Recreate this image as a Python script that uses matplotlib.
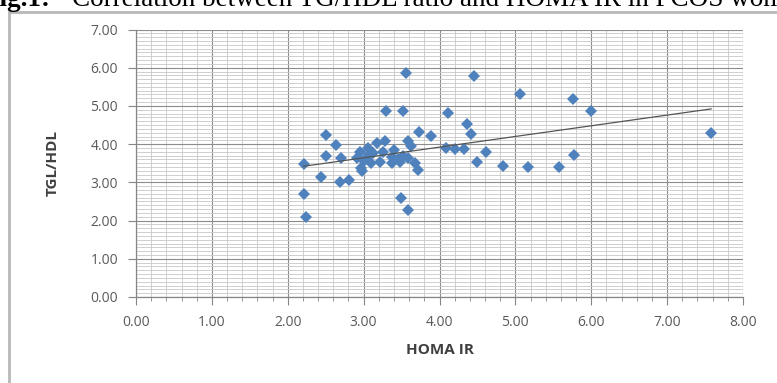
import numpy as np
import matplotlib.pyplot as plt
from matplotlib.ticker import MultipleLocator, FormatStrFormatter
from matplotlib.patches import Rectangle

# HOMA IR vs TGL/HDL
homa_ir = [2.21, 2.21, 2.24, 2.44, 2.50, 2.64, 2.50, 2.69, 2.81, 2.70,
           2.98, 3.30, 3.52, 3.56, 4.11, 4.45, 3.49, 3.58, 3.73, 3.89,
           3.58, 3.63, 3.72, 4.36, 4.41, 4.09, 4.20, 4.32, 4.49, 4.61,
           4.84, 5.16, 5.57, 5.77, 5.06, 5.76, 6.00, 7.58,
           3.28, 3.17, 3.06, 2.95, 2.91, 3.04, 3.13, 3.26, 3.37, 3.21,
           3.37, 3.48, 3.59, 3.68, 2.97, 3.10, 3.45, 3.00, 3.40, 3.52]
tgl_hdl = [3.47, 2.70, 2.09, 3.15, 4.23, 3.98, 3.69, 3.00, 3.06, 3.64,
           3.31, 4.88, 4.88, 5.87, 4.81, 5.79, 2.60, 2.28, 4.33, 4.21,
           4.07, 3.96, 3.33, 4.52, 4.27, 3.90, 3.87, 3.86, 3.54, 3.80,
           3.44, 3.41, 3.41, 3.72, 5.31, 5.18, 4.88, 4.28,
           4.07, 4.02, 3.89, 3.80, 3.63, 3.67, 3.76, 3.80, 3.67, 3.54,
           3.50, 3.54, 3.63, 3.50, 3.37, 3.50, 3.60, 3.55, 3.85, 3.70]

x = np.array(homa_ir)
y = np.array(tgl_hdl)

fig = plt.figure(figsize=(7.77, 3.83), dpi=100)
fig.patch.set_facecolor('white')

# chart area border
fig.add_artist(Rectangle((9 / 777, -0.05), 1.0, 1 - 12 / 383 + 0.05,
                         transform=fig.transFigure, fill=False,
                         edgecolor='#b8b8b8', linewidth=2.0))

ax = fig.add_axes([136 / 777, 1 - 297 / 383, (743 - 136) / 777, (297 - 29.5) / 383])

ax.set_xlim(0, 8)
ax.set_ylim(0, 7)
ax.xaxis.set_major_locator(MultipleLocator(1))
ax.xaxis.set_minor_locator(MultipleLocator(0.2))
ax.yaxis.set_major_locator(MultipleLocator(1))
ax.yaxis.set_minor_locator(MultipleLocator(0.1))
ax.xaxis.set_major_formatter(FormatStrFormatter('%.2f'))
ax.yaxis.set_major_formatter(FormatStrFormatter('%.2f'))

ax.grid(which='major', color='#8c8c8c', linewidth=0.8)
ax.grid(which='minor', color='#c8c8c8', linewidth=0.6)
ax.set_axisbelow(True)

for s in ['top', 'right']:
    ax.spines[s].set_visible(False)
for s in ['left', 'bottom']:
    ax.spines[s].set_color('#868686')
    ax.spines[s].set_linewidth(0.9)

ax.tick_params(which='major', direction='out', length=6, color='#868686',
               labelsize=10, labelcolor='#595959', pad=7)
ax.tick_params(axis='x', which='minor', direction='out', length=3, color='#868686')
ax.tick_params(axis='y', which='minor', length=0)
for lab in ax.get_xticklabels() + ax.get_yticklabels():
    lab.set_fontfamily('Open Sans')

ax.plot(x, y, linestyle='none', marker='D', markersize=6.5,
        color='#4f81bd', markeredgewidth=0, zorder=3)

# linear trendline
k, b = np.polyfit(x, y, 1)
xt = np.array([x.min(), x.max()])
ax.plot(xt, k * xt + b, color='#555555', linewidth=0.9, zorder=4)

ax.set_xlabel('HOMA IR', fontsize=11, fontweight='bold', color='#404040',
              family='Open Sans', labelpad=9)
ax.set_ylabel('TGL/HDL', fontsize=11, fontweight='bold', color='#404040',
              family='Open Sans', labelpad=22)

# caption cut off at the top edge
fig.text(-16 / 777, 1 - 6.5 / 383, 'Fig.1:', fontsize=19.5, fontweight='bold',
         family='Liberation Serif', va='baseline', ha='left')
fig.text(72 / 777, 1 - 6.5 / 383,
         'Correlation between TG/HDL ratio and HOMA IR in PCOS women',
         fontsize=19.5, family='Liberation Serif', va='baseline', ha='left')

fig.savefig('out.png', dpi=100)
